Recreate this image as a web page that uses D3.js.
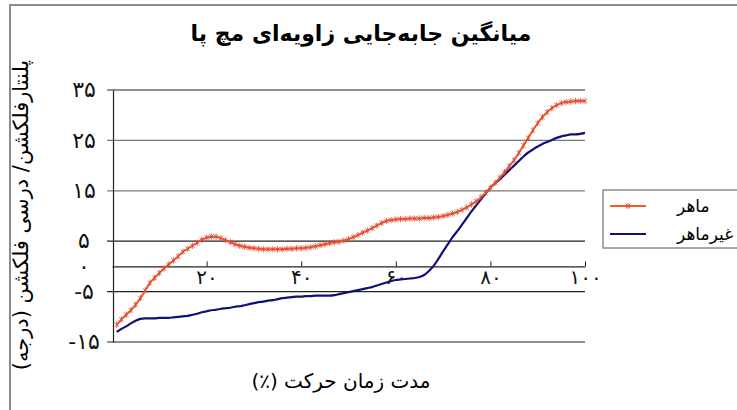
<!DOCTYPE html>
<html><head><meta charset="utf-8">
<script src="https://cdn.jsdelivr.net/npm/d3@7"></script>
<style>html,body{margin:0;padding:0;background:#fff;}svg{display:block;}</style>
</head><body>
<svg id="c" width="737" height="410"></svg>
<script>
const title = "میانگین جابه‌جایی زاویه‌ای مچ پا";
const xTitle = "مدت زمان حرکت (٪)";
const yTitle = "پلنتارفلکشن/ درسی فلکشن (درجه)";
const seriesNames = ["ماهر", "غیرماهر"];
const xTicks = [20, 40, 60, 80, 100];
const xTickLabels = ["۲۰", "۴۰", "۶۰", "۸۰", "۱۰۰"];
const yTicks = [35, 25, 15, 5, 0, -5, -15];
const yTickLabels = ["۳۵", "۲۵", "۱۵", "۵", "۰", "-۵", "-۱۵"];
const gridValues = [35, 25, 15, 5, -5, -15];
const timePct = [1,2,3,4,5,6,7,8,9,10,11,12,13,14,15,16,17,18,19,20,21,22,23,24,25,26,27,28,29,30,31,32,33,34,35,36,37,38,39,40,41,42,43,44,45,46,47,48,49,50,51,52,53,54,55,56,57,58,59,60,61,62,63,64,65,66,67,68,69,70,71,72,73,74,75,76,77,78,79,80,81,82,83,84,85,86,87,88,89,90,91,92,93,94,95,96,97,98,99,100];
const expert = [-11.6,-10.5,-9.6,-8.7,-7.6,-6.3,-4.8,-3.3,-2.3,-1.3,-0.4,0.4,1.2,2.0,2.9,3.5,4.1,4.7,5.3,5.7,5.9,5.9,5.6,5.2,4.8,4.4,4.1,3.9,3.7,3.6,3.5,3.4,3.4,3.4,3.4,3.4,3.5,3.5,3.6,3.6,3.7,3.8,4.0,4.2,4.4,4.6,4.8,4.9,5.1,5.4,5.8,6.2,6.7,7.1,7.6,8.1,8.6,9.0,9.2,9.3,9.4,9.4,9.5,9.5,9.5,9.6,9.6,9.7,9.8,10.0,10.2,10.5,10.8,11.2,11.7,12.3,12.9,13.7,14.6,15.6,16.6,17.6,18.7,19.9,21.1,22.5,24.0,25.5,27.0,28.4,29.6,30.6,31.4,32.0,32.4,32.6,32.7,32.8,32.8,32.8];
const novice = [-13.0,-12.4,-11.9,-11.3,-10.8,-10.4,-10.3,-10.3,-10.3,-10.2,-10.2,-10.2,-10.1,-10.0,-9.9,-9.8,-9.6,-9.4,-9.1,-8.9,-8.7,-8.6,-8.4,-8.3,-8.2,-8.0,-7.9,-7.7,-7.5,-7.3,-7.1,-7.0,-6.8,-6.7,-6.5,-6.3,-6.2,-6.1,-6.0,-6.0,-5.9,-5.9,-5.8,-5.8,-5.8,-5.8,-5.7,-5.5,-5.3,-5.1,-4.9,-4.7,-4.5,-4.3,-4.1,-3.8,-3.5,-3.2,-2.9,-2.7,-2.6,-2.5,-2.4,-2.3,-2.1,-1.7,-0.9,0.1,1.5,3.0,4.4,5.8,7.0,8.3,9.6,10.9,12.1,13.3,14.5,15.6,16.5,17.3,18.2,19.1,20.0,20.9,21.8,22.6,23.2,23.8,24.3,24.7,25.1,25.5,25.8,26.0,26.2,26.2,26.3,26.5];

const svg = d3.select("#c");
const font = "'DejaVu Sans', sans-serif";
const x = d3.scaleLinear().domain([0, 100]).range([112, 585]);
const y = d3.scaleLinear().domain([-15, 35]).range([342, 90]);

// outer chart border (partial, cropped)
svg.append("path").attr("d", "M10,410 L10,5 L737,5").attr("fill", "none")
  .attr("stroke", "#8c8c8c").attr("stroke-width", 2);

// title
svg.append("text").attr("x", 361).attr("y", 41).attr("text-anchor", "middle")
  .attr("direction", "rtl")
  .attr("font-family", font).attr("font-weight", "bold").attr("font-size", 22)
  .text(title);

// gridlines
const gridColor = v => (v === 25 || v === 15) ? "#7a7a7a" : "#222";
svg.append("g").selectAll("line").data(gridValues).join("line")
  .attr("x1", x(0) - 5).attr("x2", x(100))
  .attr("y1", d => y(d)).attr("y2", d => y(d))
  .attr("stroke", d => gridColor(d)).attr("stroke-width", 1.2);

// x axis at 0
const xAxis = d3.axisBottom(x).tickValues(xTicks).tickSizeInner(-5).tickSizeOuter(0)
  .tickFormat((d, i) => xTickLabels[i]);
const gx = svg.append("g").attr("transform", `translate(0,${y(0)})`).call(xAxis);
gx.select(".domain").attr("stroke", "#222").attr("stroke-width", 1.2);
gx.selectAll(".tick line").attr("stroke", "#222");
gx.selectAll(".tick text").attr("font-family", font).attr("font-size", 20)
  .attr("fill", "#111").attr("y", 3).attr("dy", "0.75em");

// y axis
const yAxis = d3.axisLeft(y).tickValues(yTicks).tickSize(0)
  .tickFormat((d, i) => yTickLabels[i]);
const gy = svg.append("g").attr("transform", `translate(${x(0) + 1},0)`).call(yAxis);
gy.select(".domain").attr("stroke", "#222").attr("stroke-width", 1.2);
gy.selectAll(".tick text").attr("font-family", font).attr("font-size", 22)
  .attr("fill", "#111").attr("text-anchor", "middle").attr("x", -29).attr("dy", "0.3em");

// series
const line = d3.line().x((d, i) => x(timePct[i])).y(d => y(d)).curve(d3.curveMonotoneX);
svg.append("path").datum(novice).attr("d", line).attr("fill", "none")
  .attr("stroke", "#10107a").attr("stroke-width", 2.2);
svg.append("path").datum(expert).attr("d", line).attr("fill", "none")
  .attr("stroke", "#f25a25").attr("stroke-width", 2);
const star = "M-2.3,-2.3L2.3,2.3M-2.3,2.3L2.3,-2.3M0,-3.2L0,3.2";
svg.append("g").selectAll("path").data(expert).join("path")
  .attr("transform", (d, i) => `translate(${x(timePct[i])},${y(d)})`)
  .attr("d", star).attr("fill", "none").attr("stroke", "#d8463a").attr("stroke-width", 0.8);

// axis titles
svg.append("text").attr("x", 341).attr("y", 388).attr("text-anchor", "middle")
  .attr("direction", "rtl")
  .attr("font-family", font).attr("font-size", 20).text(xTitle);
svg.append("text").attr("transform", "translate(28,215) rotate(-90)")
  .attr("direction", "rtl")
  .attr("text-anchor", "middle").attr("font-family", font).attr("font-size", 21)
  .text(yTitle);

// legend
const lg = svg.append("g");
lg.append("rect").attr("x", 603).attr("y", 190).attr("width", 150).attr("height", 58)
  .attr("fill", "#fff").attr("stroke", "#8c8c8c").attr("stroke-width", 1.5);
const legColors = ["#f25a25", "#10107a"];
seriesNames.forEach((n, i) => {
  const ly = 206 + i * 28;
  lg.append("line").attr("x1", 610).attr("x2", 646).attr("y1", ly).attr("y2", ly)
    .attr("stroke", legColors[i]).attr("stroke-width", 2);
  if (i === 0) lg.append("path").attr("transform", `translate(628,${ly})`).attr("d", star)
    .attr("fill", "none").attr("stroke", "#d8463a").attr("stroke-width", 0.8);
  lg.append("text").attr("x", 677).attr("y", ly + 6).attr("font-family", font)
    .attr("font-size", 17).text(n);
});
</script>
</body></html>
